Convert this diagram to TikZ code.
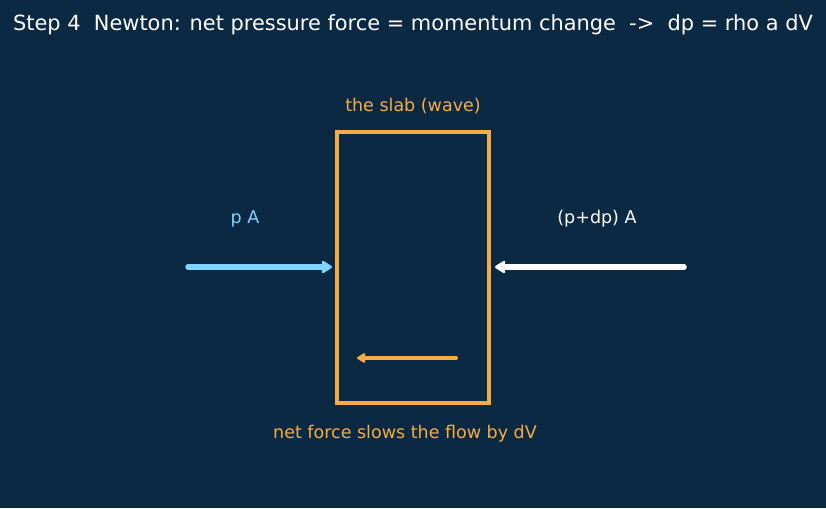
\documentclass[tikz,border=0pt]{standalone}
\usepackage{fontspec}
\setmainfont{DejaVu Sans}
\usetikzlibrary{arrows.meta}
\definecolor{bg}{HTML}{0B2942}
\definecolor{slab}{HTML}{F5AC45}
\definecolor{lblue}{HTML}{7FD3FF}
\tikzset{
  px/.style={x=1pt,y=-1pt},
  lbl/.style={font=\fontsize{17.5}{21}\selectfont, inner sep=0pt, anchor=center},
  farrow/.style={line width=5.5pt, line cap=round, -{Stealth[length=12pt,width=15pt,round,inset=2pt]}},
  narrow/.style={line width=4pt, line cap=round, -{Stealth[length=10pt,width=12pt,round,inset=2pt]}}
}
\begin{document}
\begin{tikzpicture}[px]
\fill[bg] (0,0) rectangle (826,508);
\useasboundingbox (0,0) rectangle (826,508);
\node[lbl, text=white, font=\fontsize{20.9}{25}\selectfont] (title) at (413,25) {Step 4\ \ Newton: net pressure force = momentum change\ \ ->\ \ dp = rho a dV};
\node[draw=slab, line width=4pt, minimum width=152pt, minimum height=271pt, inner sep=0pt] (slabbox) at (413,267.5) {};
\node[lbl, text=slab] (slablbl) at (413,106) {the slab (wave)};
\node[lbl, text=lblue] (pA) at (245,219) {p A};
\node[lbl, text=white] (pdpA) at (597,219) {(p+dp) A};
\node[lbl, text=slab] (net) at (405,434) {net force slows the flow by dV};
\coordinate (b1) at (188,267);
\coordinate (b2) at (332,267);
\coordinate (w1) at (684,267);
\coordinate (w2) at (495,267);
\coordinate (o1) at (456,358);
\coordinate (o2) at (357,358);
\draw[farrow, lblue] (b1) -- (b2);
\draw[farrow, white] (w1) -- (w2);
\draw[narrow, slab] (o1) -- (o2);
\end{tikzpicture}
\end{document}
